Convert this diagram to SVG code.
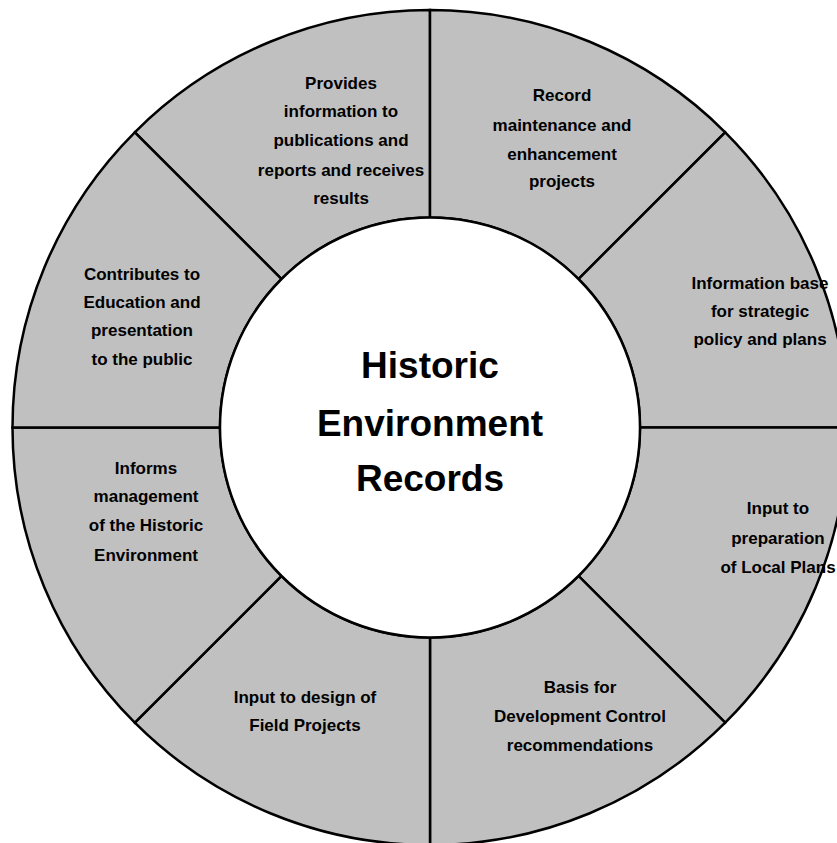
<svg xmlns="http://www.w3.org/2000/svg" width="837" height="843" viewBox="0 0 837 843">
  <style>
    .seg { fill: #c0c0c0; stroke: #000; stroke-width: 2.5; stroke-linejoin: miter; }
    .hub { fill: #fff; stroke: #000; stroke-width: 2.5; }
    .lbl { font-family: "Liberation Sans", Arial, sans-serif; font-weight: bold; font-size: 17px; fill: #000; text-anchor: middle; }
    .title { font-family: "Liberation Sans", Arial, sans-serif; font-weight: bold; font-size: 37px; fill: #000; text-anchor: middle; }
  </style>
  <rect width="837" height="843" fill="#fff"/>

  <!-- ring segments: centre (430,427.5), outer r 417.5, inner r 210 -->
  <g id="seg-publications">
    <path class="seg" d="M430 10 A417.5 417.5 0 0 0 134.78 132.28 L281.51 279.01 A210 210 0 0 1 430 217.5 Z"/>
    <text class="lbl" x="341" y="89">Provides</text>
    <text class="lbl" x="341" y="117">information to</text>
    <text class="lbl" x="341" y="146">publications and</text>
    <text class="lbl" x="341" y="176">reports and receives</text>
    <text class="lbl" x="341" y="204">results</text>
  </g>
  <g id="seg-maintenance">
    <path class="seg" d="M430 10 A417.5 417.5 0 0 1 725.22 132.28 L578.49 279.01 A210 210 0 0 0 430 217.5 Z"/>
    <text class="lbl" x="562" y="101">Record</text>
    <text class="lbl" x="562" y="131">maintenance and</text>
    <text class="lbl" x="562" y="160">enhancement</text>
    <text class="lbl" x="562" y="187">projects</text>
  </g>
  <g id="seg-strategic">
    <path class="seg" d="M725.22 132.28 A417.5 417.5 0 0 1 847.5 427.5 L640 427.5 A210 210 0 0 0 578.49 279.01 Z"/>
    <text class="lbl" x="760" y="289">Information base</text>
    <text class="lbl" x="760" y="317">for strategic</text>
    <text class="lbl" x="760" y="345">policy and plans</text>
  </g>
  <g id="seg-localplans">
    <path class="seg" d="M847.5 427.5 A417.5 417.5 0 0 1 725.22 722.72 L578.49 575.99 A210 210 0 0 0 640 427.5 Z"/>
    <text class="lbl" x="778" y="514">Input to</text>
    <text class="lbl" x="778" y="544">preparation</text>
    <text class="lbl" x="778" y="573">of Local Plans</text>
  </g>
  <g id="seg-devcontrol">
    <path class="seg" d="M725.22 722.72 A417.5 417.5 0 0 1 430 845 L430 637.5 A210 210 0 0 0 578.49 575.99 Z"/>
    <text class="lbl" x="580" y="693">Basis for</text>
    <text class="lbl" x="580" y="722">Development Control</text>
    <text class="lbl" x="580" y="751">recommendations</text>
  </g>
  <g id="seg-fieldprojects">
    <path class="seg" d="M430 845 A417.5 417.5 0 0 1 134.78 722.72 L281.51 575.99 A210 210 0 0 0 430 637.5 Z"/>
    <text class="lbl" x="305" y="703">Input to design of</text>
    <text class="lbl" x="305" y="731">Field Projects</text>
  </g>
  <g id="seg-management">
    <path class="seg" d="M134.78 722.72 A417.5 417.5 0 0 1 12.5 427.5 L220 427.5 A210 210 0 0 0 281.51 575.99 Z"/>
    <text class="lbl" x="146" y="474">Informs</text>
    <text class="lbl" x="146" y="502">management</text>
    <text class="lbl" x="146" y="531">of the Historic</text>
    <text class="lbl" x="146" y="561">Environment</text>
  </g>
  <g id="seg-education">
    <path class="seg" d="M12.5 427.5 A417.5 417.5 0 0 1 134.78 132.28 L281.51 279.01 A210 210 0 0 0 220 427.5 Z"/>
    <text class="lbl" x="142" y="280">Contributes to</text>
    <text class="lbl" x="142" y="308">Education and</text>
    <text class="lbl" x="142" y="336">presentation</text>
    <text class="lbl" x="142" y="365">to the public</text>
  </g>

  <!-- hub -->
  <g id="hub">
    <circle class="hub" cx="430" cy="427.5" r="210"/>
    <text class="title" x="430" y="378">Historic</text>
    <text class="title" x="430" y="436">Environment</text>
    <text class="title" x="430" y="491">Records</text>
  </g>
</svg>
